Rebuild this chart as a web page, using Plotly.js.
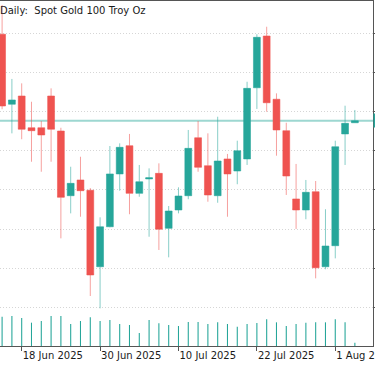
<!DOCTYPE html>
<html>
<head>
<meta charset="utf-8">
<script src="https://cdn.plot.ly/plotly-3.0.1.min.js"></script>
<style>
  html, body { margin: 0; padding: 0; background: #ffffff; }
  #chart { width: 375px; height: 366px; }
</style>
</head>
<body>
<div id="chart"></div>
<script>
// Trading days shown (daily candles)
const dates = [
  '2025-06-16','2025-06-17','2025-06-18','2025-06-19','2025-06-20',
  '2025-06-23','2025-06-24','2025-06-25','2025-06-26','2025-06-27',
  '2025-06-30','2025-07-01','2025-07-02','2025-07-03','2025-07-04',
  '2025-07-07','2025-07-08','2025-07-09','2025-07-10','2025-07-11',
  '2025-07-14','2025-07-15','2025-07-16','2025-07-17','2025-07-18',
  '2025-07-21','2025-07-22','2025-07-23','2025-07-24','2025-07-25',
  '2025-07-28','2025-07-29','2025-07-30','2025-07-31','2025-08-01',
  '2025-08-04','2025-08-05'
];
const opens = [
  3433.8, 3386.2, 3391.8, 3370.2, 3370.2,
  3391.8, 3368.0, 3324.0, 3334.7, 3327.7,
  3275.7, 3302.9, 3338.8, 3358.0, 3325.6,
  3335.4, 3339.2, 3301.8, 3314.3, 3324.0,
  3363.4, 3344.4, 3324.0, 3349.0, 3340.8,
  3349.0, 3397.4, 3432.6, 3389.6, 3368.2,
  3321.8, 3314.3, 3326.7, 3275.7, 3290.0,
  3366.0, 3373.6
];
const highs = [
  3453.7, 3403.4, 3400.4, 3387.9, 3374.8,
  3397.0, 3370.2, 3343.7, 3350.5, 3329.2,
  3309.3, 3357.8, 3359.6, 3366.0, 3344.9,
  3342.6, 3346.0, 3317.0, 3329.7, 3368.7,
  3374.8, 3366.4, 3377.7, 3352.4, 3361.4,
  3401.5, 3433.8, 3438.9, 3393.6, 3373.6,
  3345.6, 3334.7, 3334.0, 3314.8, 3361.4,
  3385.2, 3382.3
];
const lows = [
  3382.8, 3366.4, 3362.4, 3347.1, 3340.3,
  3347.1, 3295.0, 3312.0, 3309.7, 3255.8,
  3247.4, 3302.5, 3327.4, 3311.4, 3323.3,
  3296.1, 3287.1, 3282.1, 3312.0, 3321.6,
  3340.3, 3319.9, 3319.2, 3309.7, 3331.8,
  3344.9, 3383.0, 3381.1, 3351.2, 3324.5,
  3301.4, 3308.0, 3267.8, 3274.0, 3281.4,
  3344.9, 3373.6
];
const closes = [
  3385.0, 3389.1, 3369.2, 3368.2, 3365.3,
  3369.2, 3322.9, 3332.4, 3327.4, 3270.1,
  3302.9, 3338.8, 3356.9, 3325.6, 3333.5,
  3336.2, 3301.2, 3313.6, 3323.8, 3356.2,
  3343.3, 3324.5, 3347.6, 3338.8, 3354.6,
  3397.0, 3431.7, 3387.2, 3368.7, 3337.4,
  3314.3, 3326.3, 3275.0, 3289.8, 3357.3,
  3373.2, 3375.0
];
// Tick volume (thousands of ticks)
const volumes = [
  176, 180, 168, 140, 150,
  180, 180, 132, 150, 172,
  150, 156, 132, 126, 78,
  156, 136, 126, 120, 144,
  144, 132, 142, 132, 116,
  132, 138, 160, 142, 120,
  132, 140, 142, 142, 160,
  142, 20
];
const tickDates = ['2025-06-18','2025-06-30','2025-07-10','2025-07-22','2025-08-01'];
const tickLabels = ['18 Jun 2025','30 Jun 2025','10 Jul 2025','22 Jul 2025','1 Aug 2025'];
const titleText = 'Daily:\u00a0 Spot Gold 100 Troy Oz';

const UP = '#26a69a', DOWN = '#ef5350';
const FONT = 'DejaVu Sans, Verdana, sans-serif';
const GRID = '#d6d6d6';
const lastClose = closes[closes.length - 1];

const traces = [
  {
    type: 'bar',
    x: dates, y: volumes,
    yaxis: 'y2',
    width: 0.11,
    marker: { color: UP, line: { width: 0 } },
    hoverinfo: 'skip',
    showlegend: false
  },
  {
    type: 'candlestick',
    x: dates, open: opens, high: highs, low: lows, close: closes,
    increasing: { fillcolor: UP, line: { color: 'rgba(38,166,154,0.55)', width: 1 } },
    decreasing: { fillcolor: DOWN, line: { color: 'rgba(239,83,80,0.55)', width: 1 } },
    whiskerwidth: 0,
    showlegend: false
  }
];

const layout = {
  width: 375, height: 366,
  margin: { l: 0, r: 2, t: 1, b: 20, pad: 0 },
  paper_bgcolor: '#ffffff', plot_bgcolor: '#ffffff',
  showlegend: false,
  boxgap: 0.3, boxgroupgap: 0,
  font: { family: FONT, size: 10, color: '#1a1a1a' },
  xaxis: {
    type: 'category',
    categoryorder: 'array', categoryarray: dates,
    range: [-0.214, 37.85],
    rangeslider: { visible: false },
    showgrid: false, zeroline: false,
    showline: true, mirror: true, linecolor: '#555555', linewidth: 1,
    ticks: 'outside', ticklen: 4, tickcolor: '#555555',
    tickmode: 'array', tickvals: tickDates, ticktext: tickLabels,
    ticklabelposition: 'outside right', ticklabeloverflow: 'allow',
    tickfont: { family: FONT, size: 10, color: '#1a1a1a' },
    fixedrange: true
  },
  xaxis2: {
    overlaying: 'x', type: 'linear',
    range: [-0.214, 37.85],
    tick0: 2, dtick: 4,
    showgrid: true, gridcolor: GRID, griddash: '1px,2px', gridwidth: 1,
    showticklabels: false, ticks: '', showline: false, zeroline: false,
    fixedrange: true
  },
  yaxis: {
    side: 'right',
    range: [3221.8, 3456.4],
    tick0: 3434.4, dtick: 26.62,
    showgrid: true, gridcolor: GRID, griddash: '1px,2px', gridwidth: 1,
    zeroline: false,
    showline: true, linecolor: '#555555', linewidth: 1,
    ticks: 'outside', ticklen: 3, tickcolor: '#555555',
    showticklabels: false,
    fixedrange: true
  },
  yaxis2: {
    overlaying: 'y', range: [0, 2070], visible: false, fixedrange: true
  },
  shapes: [
    {
      type: 'line', xref: 'paper', x0: 0, x1: 1, yref: 'y', y0: lastClose, y1: lastClose,
      line: { color: 'rgba(38,166,154,0.45)', width: 2 }, layer: 'below'
    }
  ],
  annotations: [
    {
      text: titleText, xref: 'paper', yref: 'paper', x: 0, y: 1,
      xanchor: 'left', yanchor: 'top', showarrow: false,
      xshift: -2, yshift: -2,
      font: { family: FONT, size: 10, color: '#1a1a1a' }
    },
    {
      text: lastClose.toFixed(2), xref: 'paper', yref: 'y', x: 1, y: lastClose,
      xanchor: 'left', yanchor: 'middle', showarrow: false,
      bgcolor: UP, font: { family: FONT, size: 10, color: '#ffffff' }
    }
  ]
};

Plotly.newPlot('chart', traces, layout, { displayModeBar: false, staticPlot: true });
</script>
</body>
</html>
